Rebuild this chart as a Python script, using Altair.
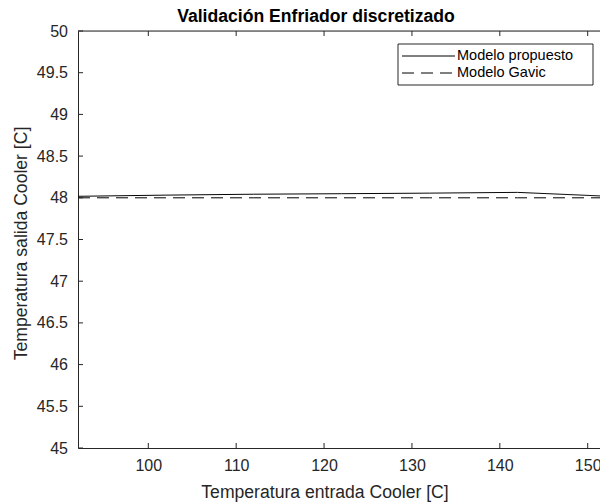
import altair as alt
import pandas as pd

# Cooler inlet temperature [C] and outlet temperature for each model [C]
temp_entrada = [92, 102, 112, 122, 132, 142, 152]
salida_propuesto = [48.018, 48.032, 48.043, 48.049, 48.056, 48.065, 48.020]
salida_gavic = [48.0, 48.0, 48.0, 48.0, 48.0, 48.0, 48.0]
series = ["Modelo propuesto", "Modelo Gavic"]
dashes = [[1, 0], [12, 7]]

x_ticks = [100, 110, 120, 130, 140, 150]
y_ticks = [45, 45.5, 46, 46.5, 47, 47.5, 48, 48.5, 49, 49.5, 50]

titulo = "Validación Enfriador discretizado"

W, H = 522, 417
FONT = "Liberation Sans"
INK = "#262626"

rows = []
for name, vals in zip(series, [salida_propuesto, salida_gavic]):
    for t, v in zip(temp_entrada, vals):
        rows.append({"entrada": t, "salida": v, "modelo": name})
df = pd.DataFrame(rows)

x_scale = alt.Scale(domain=[92, 151.4], nice=False, zero=False)
y_scale = alt.Scale(domain=[45, 50], nice=False, zero=False)

x_axis = alt.Axis(
    values=x_ticks, ticks=False, tickSize=0, grid=False, format="~g",
    domainColor=INK, labelColor=INK, labelFont=FONT, labelFontSize=16,
    labelPadding=9, title="Temperatura entrada Cooler [C]",
    titleFont=FONT, titleFontSize=17.6, titleFontWeight="normal",
    titleColor=INK, titleX=246.5, titleY=49, titleBaseline="alphabetic",
)
y_axis = alt.Axis(
    values=y_ticks, ticks=False, tickSize=0, grid=False, format="~g",
    domainColor=INK, labelColor=INK, labelFont=FONT, labelFontSize=16,
    labelPadding=10.5, title="Temperatura salida Cooler [C]",
    titleFont=FONT, titleFontSize=17.6, titleFontWeight="normal",
    titleColor=INK, titleX=-52, titleY=212, titleBaseline="alphabetic",
)

lines = alt.Chart(df).mark_line(clip=True, strokeWidth=1, color="black").encode(
    x=alt.X("entrada:Q", scale=x_scale, axis=x_axis),
    y=alt.Y("salida:Q", scale=y_scale, axis=y_axis),
    strokeDash=alt.StrokeDash(
        "modelo:N", scale=alt.Scale(domain=series, range=dashes), legend=None
    ),
)

one = pd.DataFrame({"k": [0]})

# top frame line
top_frame = alt.Chart(one).mark_rule(color=INK, strokeWidth=1).encode(
    x=alt.value(0), x2=alt.value(W), y=alt.value(0)
)

# inward ticks on bottom, top and left edges
xt = pd.DataFrame({"t": x_ticks})
yt = pd.DataFrame({"t": y_ticks})
tick_bottom = alt.Chart(xt).mark_rule(color=INK).encode(
    x=alt.X("t:Q", scale=x_scale), y=alt.value(H), y2=alt.value(H - 5)
)
tick_top = alt.Chart(xt).mark_rule(color=INK).encode(
    x=alt.X("t:Q", scale=x_scale), y=alt.value(0), y2=alt.value(5)
)
tick_left = alt.Chart(yt).mark_rule(color=INK).encode(
    y=alt.Y("t:Q", scale=y_scale), x=alt.value(0), x2=alt.value(5)
)

# title
title_mark = alt.Chart(one).mark_text(
    font=FONT, fontSize=17.6, fontWeight="bold", color="black",
    align="center", baseline="alphabetic",
).encode(x=alt.value(238), y=alt.value(-9), text=alt.value(titulo))

# legend box with line samples and labels
LX, LY, LW, LH = 320, 13, 195, 41
legend_box = alt.Chart(one).mark_rect(
    fill="white", stroke=INK, strokeWidth=1
).encode(x=alt.value(LX), x2=alt.value(LX + LW), y=alt.value(LY), y2=alt.value(LY + LH))

legend_parts = [legend_box]
for i, (name, dash) in enumerate(zip(series, dashes)):
    ry = LY + 12 + 17 * i
    legend_parts.append(
        alt.Chart(one).mark_rule(color="black", strokeWidth=1, strokeDash=dash).encode(
            x=alt.value(LX + 4), x2=alt.value(LX + 57), y=alt.value(ry)
        )
    )
    legend_parts.append(
        alt.Chart(one).mark_text(
            font=FONT, fontSize=14.5, color="black", align="left", baseline="middle"
        ).encode(x=alt.value(LX + 59), y=alt.value(ry), text=alt.value(name))
    )

chart = alt.layer(
    lines, top_frame, tick_bottom, tick_top, tick_left, title_mark, *legend_parts
).properties(
    width=W, height=H,
    autosize=alt.AutoSizeParams(type="none"),
    padding={"left": 78, "top": 31, "right": 0, "bottom": 54},
).configure_view(stroke=None).configure(background="white")

chart.save("out.html", embed_options={"renderer": "svg", "actions": False})
